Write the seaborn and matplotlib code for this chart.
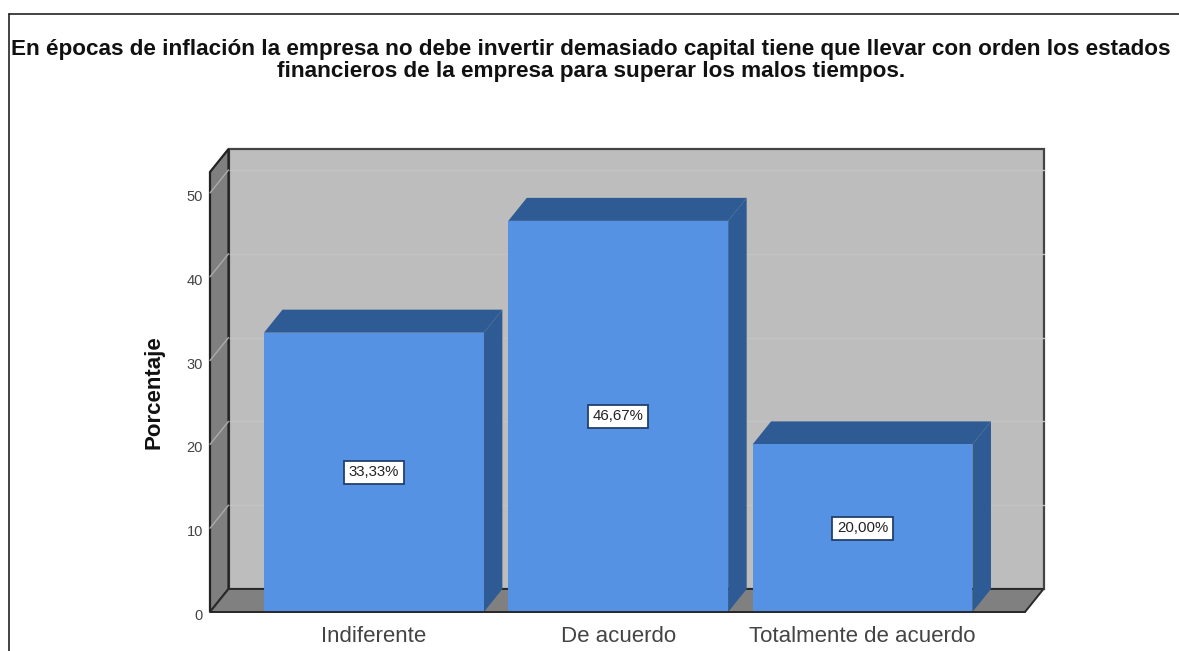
import matplotlib
matplotlib.use("Agg")
import matplotlib.pyplot as plt
import matplotlib.transforms as mtrans
import seaborn as sns
from matplotlib.lines import Line2D
from matplotlib.patches import Polygon

# Datos
categorias = ["Indiferente", "De acuerdo", "Totalmente de acuerdo"]
porcentajes = [33.33, 46.67, 20.00]
etiquetas = ["33,33%", "46,67%", "20,00%"]
ticks_y = [0, 10, 20, 30, 40, 50]
titulo = ("En épocas de inflación la empresa no debe invertir demasiado capital tiene que llevar con orden los estados\n"
          "financieros de la empresa para superar los malos tiempos.")

W, H = 1179, 651

sns.set_style("white")
plt.rcParams['font.family'] = ['Liberation Sans', 'DejaVu Sans']

fig = plt.figure(figsize=(W / 100, H / 100), dpi=100)
# plano frontal del grafico
ax = fig.add_axes([210 / W, 1 - 612 / H, (1025 - 210) / W, (612 - 172) / H])

sns.barplot(x=categorias, y=porcentajes, color="#5592E4", saturation=1, width=0.9, linewidth=0, ax=ax, zorder=5)

ax.set_xlim(-0.671, 2.665)
ax.set_ylim(0, 52.5)

# profundidad del efecto 3D en unidades de datos
dx = 18.5 / (815 / (ax.get_xlim()[1] - ax.get_xlim()[0]))
dy = 23 / (440 / ax.get_ylim()[1])
x0, x1 = ax.get_xlim()
y0, y1 = ax.get_ylim()


def cara(puntos, color, zorder, edge="none", lw=0):
    ax.add_patch(Polygon(puntos, closed=True, facecolor=color, edgecolor=edge, linewidth=lw,
                         zorder=zorder, clip_on=False, joinstyle="miter"))


# paredes
cara([(x0 + dx, y0 + dy), (x1 + dx, y0 + dy), (x1 + dx, y1 + dy), (x0 + dx, y1 + dy)], "#BDBDBD", 1, "#444444", 1.6)
cara([(x0, y0), (x0 + dx, y0 + dy), (x0 + dx, y1 + dy), (x0, y1)], "#7F7F7F", 2, "#222222", 1.6)
cara([(x0, y0), (x1, y0), (x1 + dx, y0 + dy), (x0 + dx, y0 + dy)], "#808080", 2, "#2A2A2A", 1.4)

# lineas de la cuadricula
for t in ticks_y[1:]:
    ax.plot([x0 + dx, x1 + dx], [t + dy, t + dy], color="#C3C3C3", lw=1, zorder=1.5, clip_on=False)
    ax.plot([x0, x0 + dx], [t, t + dy], color="#ABABAB", lw=1, zorder=3, clip_on=False)

# caras laterales y superiores de las barras
for barra, etiqueta in zip(ax.patches[:len(porcentajes)], etiquetas):
    xa = barra.get_x()
    xb = xa + barra.get_width()
    alto = barra.get_height()
    cara([(xb, 0), (xb + dx, dy), (xb + dx, alto + dy), (xb, alto)], "#2F5B94", 4)
    cara([(xa, alto), (xb, alto), (xb + dx, alto + dy), (xa + dx, alto + dy)], "#2F5B94", 4)
    ax.text(xa + barra.get_width() / 2, alto / 2, etiqueta, ha="center", va="center", fontsize=10.8,
            color="#222222", zorder=7,
            bbox=dict(boxstyle="square,pad=0.3", facecolor="white", edgecolor="#24406B", linewidth=1.3))
ax.plot([x0, x1], [0, 0], color="#2A2A2A", lw=1.4, zorder=6, clip_on=False)

for s in ax.spines.values():
    s.set_visible(False)
ax.set_yticks(ticks_y)
ax.set_yticklabels([str(t) for t in ticks_y], fontsize=10.5, color="#444444")
ax.tick_params(axis="y", length=0, pad=5)
# las etiquetas del eje y quedan un poco mas abajo que la linea
bajar = mtrans.ScaledTranslation(0, -0.025, fig.dpi_scale_trans)
for lab in ax.get_yticklabels():
    lab.set_transform(lab.get_transform() + bajar)
ax.tick_params(axis="x", length=0, pad=10, labelsize=16, labelcolor="#444444")
ax.set_ylabel("Porcentaje", fontsize=16, fontweight="bold", color="#111111")
ax.yaxis.set_label_coords((164 - 210) / 815, (612 - 392) / 440)

fig.text(591 / W, 1 - 39 / H, titulo, ha="center", va="top", fontsize=16.2, fontweight="bold",
         color="#111111", linespacing=1.08)

# marco de la imagen
fig.add_artist(Line2D([9 / W, 9 / W], [0, 1 - 14 / H], color="#222222", lw=1.2))
fig.add_artist(Line2D([9 / W, 1], [1 - 14 / H, 1 - 14 / H], color="#222222", lw=1.2))

fig.savefig("out.png", dpi=100)
